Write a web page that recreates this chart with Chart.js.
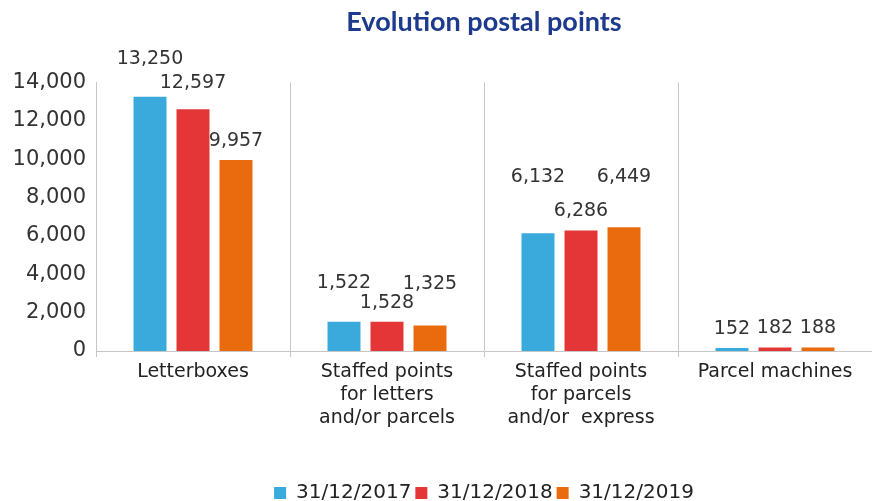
<!DOCTYPE html>
<html>
<head>
<meta charset="utf-8">
<script src="https://cdn.jsdelivr.net/npm/chart.js@4"></script>
<style>
  html, body { margin: 0; padding: 0; background: #fff; }
  #wrap { width: 872px; height: 501px; }
</style>
</head>
<body>
<div id="wrap"><canvas id="postalChart" width="872" height="501"></canvas></div>
<script>
// ── Data ─────────────────────────────────────────────────────────────────────
const categories = [
  ['Letterboxes'],
  ['Staffed points', 'for letters', 'and/or parcels'],
  ['Staffed points', 'for parcels', 'and/or  express'],
  ['Parcel machines']
];
const seriesNames = ['31/12/2017', '31/12/2018', '31/12/2019'];
const values2017 = [13250, 1522, 6132, 152];
const values2018 = [12597, 1528, 6286, 182];
const values2019 = [9957, 1325, 6449, 188];
const yTicks = [0, 2000, 4000, 6000, 8000, 10000, 12000, 14000];

// ── Style ────────────────────────────────────────────────────────────────────
const colors = ['#3aa9dc', '#e43636', '#ea6b0e'];
const FONT = "'DejaVu Sans', sans-serif";
const GRID = '#c6c6c6';
// extra lift (px) of each value label, so neighbours don't collide
const labelLift = [
  [19, 20, 37, 0],
  [7, 0, 0, 0],
  [0, 23, 31, 0]
];

const fmt = v => v.toLocaleString('en-US');

const valueLabels = {
  id: 'valueLabels',
  afterDatasetsDraw(chart) {
    const ctx = chart.ctx;
    ctx.save();
    ctx.font = `19px ${FONT}`;
    ctx.fillStyle = '#333';
    ctx.textAlign = 'center';
    ctx.textBaseline = 'middle';
    chart.data.datasets.forEach((ds, di) => {
      const meta = chart.getDatasetMeta(di);
      meta.data.forEach((bar, i) => {
        ctx.fillText(fmt(ds.data[i]), bar.x, bar.y - 19 - labelLift[di][i]);
      });
    });
    ctx.restore();
  }
};

const allValues = [values2017, values2018, values2019];

new Chart(document.getElementById('postalChart').getContext('2d'), {
  type: 'bar',
  data: {
    labels: categories,
    datasets: seriesNames.map((name, i) => ({
      label: name,
      data: allValues[i],
      backgroundColor: colors[i],
      borderWidth: 0,
      categoryPercentage: 0.665,
      barPercentage: 0.767
    }))
  },
  options: {
    responsive: false,
    animation: false,
    layout: { padding: { left: 0, right: 0, top: 0, bottom: -12 } },
    plugins: {
      title: {
        display: true,
        fullSize: false,
        text: 'Evolution postal points',
        color: '#1d3a8c',
        font: { family: 'Lato', size: 27, weight: 'bold' },
        padding: { top: 6, bottom: 44 }
      },
      legend: {
        display: true,
        position: 'bottom',
        fullSize: false,
        labels: {
          boxWidth: 12,
          boxHeight: 12,
          padding: 4,
          color: '#222',
          font: { family: FONT, size: 20 }
        }
      },
      tooltip: { enabled: false }
    },
    scales: {
      x: {
        grid: { display: true, color: GRID, tickLength: 6, offset: true },
        border: { display: true, color: GRID },
        ticks: {
          color: '#222',
          padding: 4,
          maxRotation: 0,
          autoSkip: false,
          font: { family: FONT, size: 19, lineHeight: 1.2 }
        },
        afterFit(axis) { axis.height = 128; }
      },
      y: {
        min: 0,
        max: 14000,
        afterBuildTicks(axis) { axis.ticks = yTicks.map(v => ({ value: v })); },
        grid: { display: false, drawTicks: false },
        border: { display: true, color: GRID },
        ticks: {
          color: '#333',
          padding: 10,
          font: { family: FONT, size: 21 },
          callback: v => fmt(v)
        },
        afterFit(axis) { axis.width = 96; }
      }
    }
  },
  plugins: [valueLabels]
});
</script>
</body>
</html>
